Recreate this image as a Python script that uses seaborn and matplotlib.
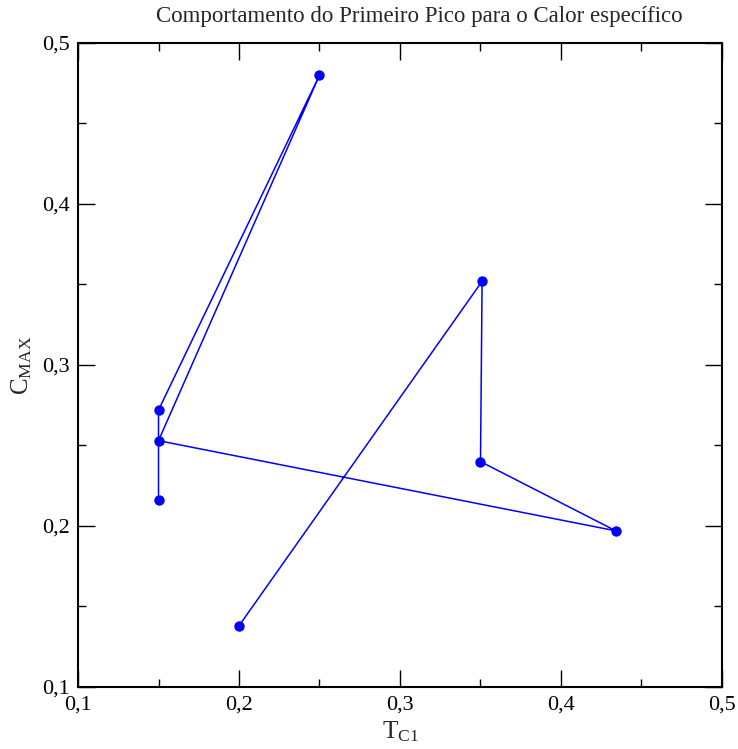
import matplotlib
matplotlib.use("Agg")
import matplotlib.pyplot as plt
from matplotlib.ticker import MultipleLocator, FuncFormatter
import seaborn as sns
import pandas as pd

# Peak position (T_C1) and height (C_MAX), in the order the path visits them
t_c1 = [0.200, 0.351, 0.350, 0.434, 0.150, 0.250, 0.150, 0.150]
c_max = [0.138, 0.352, 0.240, 0.197, 0.253, 0.480, 0.272, 0.216]
step = list(range(len(t_c1)))

x_ticks = [0.1, 0.2, 0.3, 0.4, 0.5]
y_ticks = [0.1, 0.2, 0.3, 0.4, 0.5]

df = pd.DataFrame({"step": step, "T": t_c1, "C": c_max})

sns.set_theme(style="ticks")
plt.rcParams["font.family"] = ["Liberation Serif", "DejaVu Serif"]
plt.rcParams["mathtext.fontset"] = "custom"
plt.rcParams["mathtext.rm"] = "Liberation Serif"
plt.rcParams["mathtext.it"] = "Liberation Serif:italic"

fig = plt.figure(figsize=(7.38, 7.49), dpi=100)
ax = fig.add_axes([0.1057, 0.0828, 0.8726, 0.8598])

sns.lineplot(data=df, x="T", y="C", sort=False, estimator=None, ax=ax,
             color="#0000ff", linewidth=1.1, marker="o", markersize=7.5,
             markeredgewidth=0, markerfacecolor="#0000ff")

ax.set_xlim(0.1, 0.5)
ax.set_ylim(0.1, 0.5)
ax.set_xticks(x_ticks)
ax.set_yticks(y_ticks)
ax.xaxis.set_minor_locator(MultipleLocator(0.05))
ax.yaxis.set_minor_locator(MultipleLocator(0.05))
comma = FuncFormatter(lambda v, _: f"{v:.1f}".replace(".", ","))
ax.xaxis.set_major_formatter(comma)
ax.yaxis.set_major_formatter(comma)

ax.tick_params(which="both", direction="in", top=True, right=True,
               colors="black", width=1.0, labelsize=16)
ax.tick_params(which="major", length=12, pad=6)
ax.tick_params(which="minor", length=6)
for s in ax.spines.values():
    s.set_linewidth(1.5)
    s.set_color("black")

ax.set_xlabel(r"T$_{\mathrm{C1}}$", fontsize=18, labelpad=4)
ax.set_ylabel(r"C$_{\mathrm{MAX}}$", fontsize=18, labelpad=6)
ax.set_title("Comportamento do Primeiro Pico para o Calor específico",
             fontsize=16.5, pad=15, x=0.53)

fig.savefig("out.png", dpi=100)
